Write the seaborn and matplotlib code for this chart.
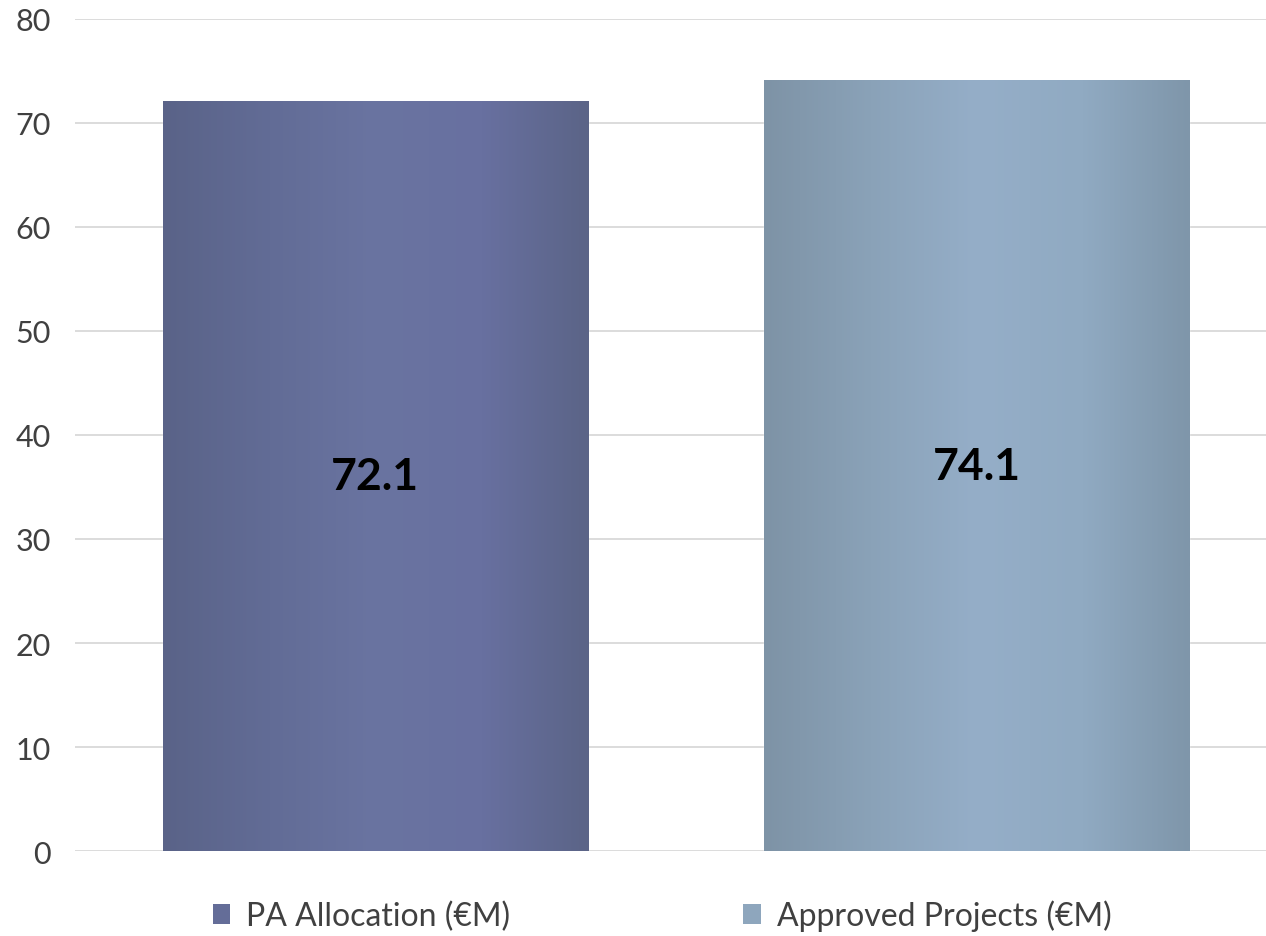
import numpy as np
import pandas as pd
import matplotlib
matplotlib.use("Agg")
import matplotlib.pyplot as plt
import seaborn as sns
from matplotlib.colors import LinearSegmentedColormap
from matplotlib.patches import Patch

# data
series = ["PA Allocation (€M)", "Approved Projects (€M)"]
values = [72.1, 74.1]
y_ticks = [0, 10, 20, 30, 40, 50, 60, 70, 80]

base_colors = ["#646d98", "#8ea6bd"]
# horizontal gradient stops for each bar (left -> right)
gradients = [
    ["#5a6388", "#626c96", "#6a74a1", "#6870a0", "#5b6487"],
    ["#7e93a6", "#8aa2b8", "#95aec8", "#90aac2", "#7f96aa"],
]

df = pd.DataFrame({"series": series, "value": values})

sns.set_theme(style="white")
plt.rcParams["font.family"] = ["Lato", "DejaVu Sans"]

fig = plt.figure(figsize=(12.66, 9.37), dpi=100)
ax = fig.add_axes([0.059, 0.0907, 0.95, 0.888])

sns.barplot(data=df, x="series", y="value", hue="series", palette=base_colors,
            width=0.707, dodge=False, legend=False, ax=ax, saturation=1)

ax.set_ylim(0, 80)
ax.set_xlim(-0.5, 1.5)
ax.set_yticks(y_ticks)
ax.set_yticklabels([str(t) for t in y_ticks], fontsize=22, color="#404040")
ax.set_xticks([])
ax.set_xlabel("")
ax.set_ylabel("")
ax.tick_params(axis="y", length=0, pad=17)
for s in ax.spines.values():
    s.set_visible(False)
ax.yaxis.grid(True, color="#d9d9d9", linewidth=1.3)
ax.set_axisbelow(True)

# gradient fill clipped to each bar
for patch, stops in zip(ax.patches, gradients):
    x0, y0 = patch.get_x(), patch.get_y()
    w, h = patch.get_width(), patch.get_height()
    cmap = LinearSegmentedColormap.from_list("g", stops)
    grad = np.linspace(0, 1, 256).reshape(1, -1)
    im = ax.imshow(grad, cmap=cmap, aspect="auto",
                   extent=(x0, x0 + w, y0, y0 + h), zorder=patch.get_zorder() + 0.1)
    im.set_clip_path(patch)
    ax.text(x0 + w / 2, h / 2, f"{h:.1f}", ha="center", va="center",
            fontsize=32, fontweight="bold", color="black", zorder=5)

ax.set_xlim(-0.5, 1.5)
ax.set_ylim(0, 80)

handles = [Patch(facecolor=c, edgecolor="none") for c in base_colors]
fig.legend(handles, series, loc="center", bbox_to_anchor=(0.523, 0.022), ncol=2,
           frameon=False, fontsize=23, handlelength=0.55, handleheight=0.55,
           handletextpad=0.5, columnspacing=7.3, labelcolor="#404040")

fig.savefig("out.png", dpi=100)
